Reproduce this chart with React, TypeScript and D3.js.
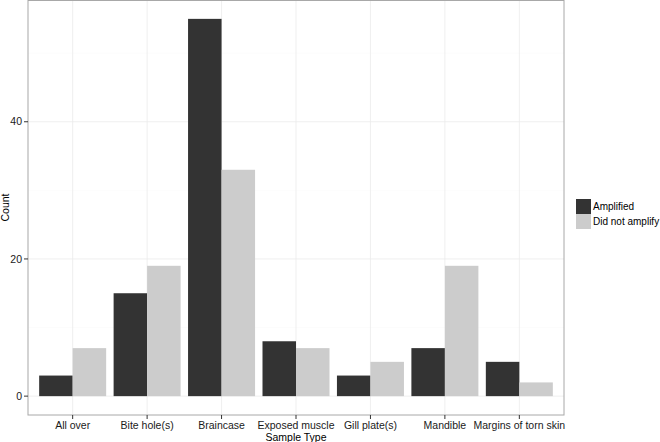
import React from "react";
import * as d3 from "d3";

const categories = ["All over", "Bite hole(s)", "Braincase", "Exposed muscle", "Gill plate(s)", "Mandible", "Margins of torn skin"];
const seriesNames = ["Amplified", "Did not amplify"];
const amplified = [3, 15, 55, 8, 3, 7, 5];
const notAmplified = [7, 19, 33, 7, 5, 19, 2];
const yTicks = [0, 20, 40];
const yMinorTicks = [10, 30, 50];
const colors = ["#333333", "#CCCCCC"];

export default function App() {
  const W = 660, H = 442;
  const left = 28, right = 564, top = 0, bottom = 415;
  const maxV = d3.max([...amplified, ...notAmplified]) as number;
  const pad = maxV * 0.05;
  const y = d3.scaleLinear().domain([-pad, maxV + pad]).range([bottom, top]);
  // ggplot style: continuous positions 1..n, expand 0.6
  const xc = d3.scaleLinear().domain([0.4, categories.length + 0.6]).range([left, right]);
  const barW = xc(1.45) - xc(1);
  const series = [amplified, notAmplified];
  const font = "Liberation Sans, Arial, Helvetica, sans-serif";
  return (
    <svg width={W} height={H} style={{ position: "absolute", left: 0, top: 0, display: "block" }} fontFamily={font}>
      <rect x={0} y={0} width={W} height={H} fill="#fff" />
      {yMinorTicks.map((t) => (
        <line key={"m" + t} x1={left} x2={right} y1={y(t)} y2={y(t)} stroke="#FAFAFA" strokeWidth={0.6} />
      ))}
      {yTicks.map((t) => (
        <line key={"g" + t} x1={left} x2={right} y1={y(t)} y2={y(t)} stroke="#EBEBEB" strokeWidth={0.8} />
      ))}
      {categories.map((c, i) => (
        <line key={"v" + c} x1={xc(i + 1)} x2={xc(i + 1)} y1={top} y2={bottom} stroke="#EBEBEB" strokeWidth={0.8} />
      ))}
      {series.map((vals, s) =>
        vals.map((v, i) => {
          const x0 = xc(i + 1) - barW + s * barW;
          return <rect key={s + "-" + i} x={x0} y={y(v)} width={barW} height={y(0) - y(v)} fill={colors[s]} />;
        })
      )}
      <rect x={left} y={top + 0.5} width={right - left} height={bottom - top - 0.5} fill="none" stroke="#A8A8A8" strokeWidth={1} />
      {yTicks.map((t) => (
        <g key={"yt" + t}>
          <line x1={left - 4} x2={left} y1={y(t)} y2={y(t)} stroke="#333" strokeWidth={1} />
          <text x={left - 6} y={y(t)} dy="0.35em" textAnchor="end" fontSize={10.5} fill="#1a1a1a">{t}</text>
        </g>
      ))}
      {categories.map((c, i) => (
        <g key={"xt" + c}>
          <line x1={xc(i + 1)} x2={xc(i + 1)} y1={bottom} y2={bottom + 4} stroke="#333" strokeWidth={1} />
          <text x={xc(i + 1)} y={bottom + 14} textAnchor="middle" fontSize={10.5} fill="#1a1a1a">{c}</text>
        </g>
      ))}
      <text x={(left + right) / 2} y={440.5} textAnchor="middle" fontSize={10.5} fill="#000">Sample Type</text>
      <text transform={`translate(9, ${(top + bottom) / 2}) rotate(-90)`} textAnchor="middle" fontSize={10.5} fill="#000">Count</text>
      {seriesNames.map((n, s) => (
        <g key={n}>
          <rect x={576} y={199 + s * 15} width={15} height={15} fill={colors[s]} />
          <text x={593} y={199 + s * 15 + 7.5} dy="0.35em" fontSize={10} fill="#000">{n}</text>
        </g>
      ))}
    </svg>
  );
}
